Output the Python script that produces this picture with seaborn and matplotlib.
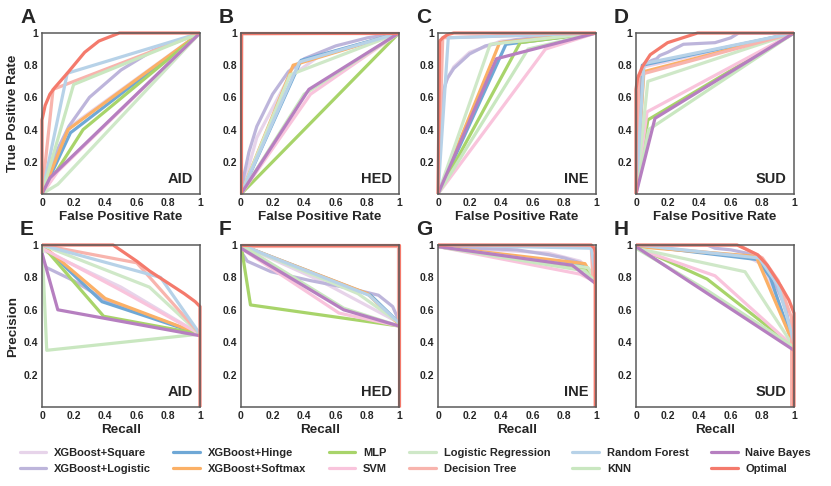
import numpy as np
import pandas as pd
import matplotlib
matplotlib.use("Agg")
import matplotlib.pyplot as plt
from matplotlib.lines import Line2D
import seaborn as sns

sns.set_style("white")
plt.rcParams['font.family'] = ['Liberation Sans', 'DejaVu Sans']
plt.rcParams['font.weight'] = 'bold'

MODELS = ["XGBoost+Square", "XGBoost+Logistic", "XGBoost+Hinge", "XGBoost+Softmax",
          "MLP", "SVM", "Logistic Regression", "Decision Tree", "Random Forest",
          "KNN", "Naive Bayes", "Optimal"]
COLORS = ["#e7d4ea", "#bdb5db", "#6fa8d6", "#fbb066", "#a8d46a", "#f9c4dc",
          "#cfe8c8", "#f8b4ad", "#b7d2e8", "#c9e7c0", "#b67fc0", "#f47a6c"]

DATASETS = ["AID", "HED", "INE", "SUD"]
LETTERS_ROC = ["A", "B", "C", "D"]
LETTERS_PR = ["E", "F", "G", "H"]

# ROC curves: (FPR, TPR)
AID_ROC = {
    "XGBoost+Square": ([0, 0.18, 1], [0, 0.42, 1]),
    "XGBoost+Logistic": ([0, 0.05, 0.1, 0.17, 0.3, 0.5, 0.7, 1], [0, 0.15, 0.28, 0.42, 0.6, 0.77, 0.89, 1]),
    "XGBoost+Hinge": ([0, 0.18, 1], [0, 0.38, 1]),
    "XGBoost+Softmax": ([0, 0.165, 1], [0, 0.40, 1]),
    "MLP": ([0, 0.26, 1], [0, 0.40, 1]),
    "SVM": ([0, 0.1, 1], [0, 0.14, 1]),
    "Logistic Regression": ([0, 0.1, 1], [0, 0.06, 1]),
    "Decision Tree": ([0, 0.07, 1], [0, 0.65, 1]),
    "Random Forest": ([0, 0.16, 1], [0, 0.75, 1]),
    "KNN": ([0, 0.2, 1], [0, 0.68, 1]),
    "Naive Bayes": ([0, 0.05, 1], [0, 0.1, 1]),
    "Optimal": ([0, 0, 0.02, 0.05, 0.08, 0.16, 0.27, 0.36, 0.49, 1], [0, 0.46, 0.55, 0.62, 0.66, 0.75, 0.88, 0.95, 1, 1]),
}
HED_ROC = {
    "XGBoost+Square": ([0, 0.1, 0.3, 0.5, 1], [0, 0.35, 0.72, 0.86, 1]),
    "XGBoost+Logistic": ([0, 0.02, 0.05, 0.1, 0.2, 0.3, 0.4, 0.6, 0.8, 1], [0, 0.12, 0.26, 0.42, 0.62, 0.76, 0.84, 0.92, 0.97, 1]),
    "XGBoost+Hinge": ([0, 0.38, 1], [0, 0.83, 1]),
    "XGBoost+Softmax": ([0, 0.33, 1], [0, 0.8, 1]),
    "MLP": ([0, 1], [0, 1]),
    "SVM": ([0, 0.44, 1], [0, 0.62, 1]),
    "Logistic Regression": ([0, 0.31, 1], [0, 0.74, 1]),
    "Decision Tree": ([0, 0.005, 1], [0, 0.995, 1]),
    "Random Forest": ([0, 0.37, 1], [0, 0.82, 1]),
    "KNN": ([0, 0.4, 1], [0, 0.62, 1]),
    "Naive Bayes": ([0, 0.43, 1], [0, 0.65, 1]),
    "Optimal": ([0, 0, 1], [0, 1, 1]),
}
INE_ROC = {
    "XGBoost+Square": ([0, 0.02, 0.05, 0.1, 0.2, 0.4, 1], [0, 0.55, 0.7, 0.79, 0.88, 0.95, 1]),
    "XGBoost+Logistic": ([0, 0.01, 0.02, 0.04, 0.06, 0.1, 0.2, 0.3, 0.5, 1], [0, 0.35, 0.52, 0.66, 0.72, 0.78, 0.87, 0.92, 0.96, 1]),
    "XGBoost+Hinge": ([0, 0.43, 1], [0, 0.93, 1]),
    "XGBoost+Softmax": ([0, 0.39, 1], [0, 0.94, 1]),
    "MLP": ([0, 0.52, 1], [0, 0.94, 1]),
    "SVM": ([0, 0.68, 1], [0, 0.9, 1]),
    "Logistic Regression": ([0, 0.33, 1], [0, 0.93, 1]),
    "Decision Tree": ([0, 0.03, 1], [0, 0.97, 1]),
    "Random Forest": ([0, 0.065, 1], [0, 0.97, 1]),
    "KNN": ([0, 0.57, 1], [0, 0.9, 1]),
    "Naive Bayes": ([0, 0.37, 1], [0, 0.84, 1]),
    "Optimal": ([0, 0.01, 0.03, 0.06, 0.1, 1], [0, 0.95, 0.97, 0.99, 1, 1]),
}
SUD_ROC = {
    "XGBoost+Square": ([0, 0.05, 1], [0, 0.79, 1]),
    "XGBoost+Logistic": ([0, 0.02, 0.05, 0.1, 0.13, 0.15, 0.2, 0.3, 0.5, 0.6, 0.65, 1], [0, 0.7, 0.8, 0.83, 0.84, 0.86, 0.88, 0.93, 0.94, 0.97, 1, 1]),
    "XGBoost+Hinge": ([0, 0.04, 1], [0, 0.8, 1]),
    "XGBoost+Softmax": ([0, 0.05, 1], [0, 0.76, 1]),
    "MLP": ([0, 0.075, 1], [0, 0.46, 1]),
    "SVM": ([0, 0.07, 1], [0, 0.51, 1]),
    "Logistic Regression": ([0, 0.075, 1], [0, 0.7, 1]),
    "Decision Tree": ([0, 0.02, 1], [0, 0.74, 1]),
    "Random Forest": ([0, 0.05, 1], [0, 0.81, 1]),
    "KNN": ([0, 0.08, 1], [0, 0.4, 1]),
    "Naive Bayes": ([0, 0.12, 1], [0, 0.47, 1]),
    "Optimal": ([0, 0, 0.01, 0.04, 0.09, 0.2, 0.39, 1], [0, 0.65, 0.72, 0.79, 0.865, 0.94, 1, 1]),
}

# PR curves: (Recall, Precision)
AID_PR = {
    "XGBoost+Square": ([0, 0.5, 1], [0.97, 0.74, 0.45]),
    "XGBoost+Logistic": ([0, 0.03, 0.2, 0.4, 1], [0.9, 0.86, 0.78, 0.66, 0.45]),
    "XGBoost+Hinge": ([0, 0.38, 1], [1, 0.65, 0.45]),
    "XGBoost+Softmax": ([0, 0.4, 1], [1, 0.67, 0.45]),
    "MLP": ([0, 0.39, 1], [1, 0.56, 0.45]),
    "SVM": ([0, 0.5, 1], [0.98, 0.72, 0.45]),
    "Logistic Regression": ([0, 0.68, 1], [1, 0.74, 0.45]),
    "Decision Tree": ([0, 0.6, 1], [1, 0.89, 0.45]),
    "Random Forest": ([0, 0.75, 1], [1, 0.8, 0.45]),
    "KNN": ([0, 0.03, 1], [1, 0.35, 0.45]),
    "Naive Bayes": ([0, 0.1, 1], [0.95, 0.6, 0.44]),
    "Optimal": ([0, 0.45, 0.6, 0.68, 0.79, 0.9, 0.97, 1, 1], [1, 1, 0.9, 0.84, 0.77, 0.7, 0.65, 0.62, 0]),
}
HED_PR = {
    "XGBoost+Square": ([0, 0.5, 1], [1, 0.78, 0.52]),
    "XGBoost+Logistic": ([0, 0.04, 0.19, 0.44, 0.7, 0.87, 0.96, 1], [0.96, 0.9, 0.835, 0.78, 0.73, 0.69, 0.62, 0.53]),
    "XGBoost+Hinge": ([0, 0.82, 1], [1, 0.69, 0.52]),
    "XGBoost+Softmax": ([0, 0.8, 1], [1, 0.7, 0.51]),
    "MLP": ([0, 0.06, 1], [1, 0.63, 0.5]),
    "SVM": ([0, 0.62, 1], [0.98, 0.58, 0.5]),
    "Logistic Regression": ([0, 0.74, 1], [1, 0.7, 0.52]),
    "Decision Tree": ([0, 0.995, 0.995], [0.995, 0.995, 0.5]),
    "Random Forest": ([0, 0.81, 1], [1, 0.69, 0.52]),
    "KNN": ([0, 0.65, 1], [1, 0.61, 0.5]),
    "Naive Bayes": ([0, 0.65, 1], [0.98, 0.6, 0.5]),
    "Optimal": ([0, 1, 1], [1, 1, 0]),
}
INE_PR = {
    "XGBoost+Square": ([0, 0.7, 0.9, 1], [0.99, 0.95, 0.9, 0.8]),
    "XGBoost+Logistic": ([0, 0.5, 0.7, 0.8, 0.9, 0.95, 1], [0.99, 0.97, 0.94, 0.92, 0.89, 0.85, 0.78]),
    "XGBoost+Hinge": ([0, 0.92, 1], [0.99, 0.87, 0.78]),
    "XGBoost+Softmax": ([0, 0.93, 1], [0.99, 0.885, 0.77]),
    "MLP": ([0, 0.93, 1], [0.99, 0.85, 0.77]),
    "SVM": ([0, 0.9, 1], [0.99, 0.82, 0.77]),
    "Logistic Regression": ([0, 0.95, 1], [0.99, 0.86, 0.78]),
    "Decision Tree": ([0, 0.97, 0.98], [1, 0.99, 0.8]),
    "Random Forest": ([0, 0.97, 1], [1, 0.98, 0.8]),
    "KNN": ([0, 0.93, 1], [0.99, 0.84, 0.77]),
    "Naive Bayes": ([0, 0.85, 1], [0.99, 0.875, 0.76]),
    "Optimal": ([0, 0.97, 0.99, 0.995, 0.995], [1, 1, 0.98, 0.95, 0]),
}
SUD_PR = {
    "XGBoost+Square": ([0, 0.7, 0.8, 1], [1, 0.93, 0.88, 0.4]),
    "XGBoost+Logistic": ([0, 0.45, 0.5, 0.6, 0.7, 0.8, 0.85, 0.9, 0.95, 0.98, 1], [1, 1, 0.98, 0.97, 0.95, 0.91, 0.82, 0.72, 0.6, 0.46, 0.4]),
    "XGBoost+Hinge": ([0, 0.77, 0.85, 1], [1, 0.91, 0.8, 0.37]),
    "XGBoost+Softmax": ([0, 0.76, 1], [0.99, 0.93, 0.38]),
    "MLP": ([0, 0.45, 1], [0.99, 0.79, 0.37]),
    "SVM": ([0, 0.5, 1], [0.98, 0.81, 0.37]),
    "Logistic Regression": ([0, 0.69, 1], [0.98, 0.835, 0.37]),
    "Decision Tree": ([0, 0.65, 0.8, 0.9, 0.985, 0.985], [1, 1, 0.92, 0.78, 0.55, 0]),
    "Random Forest": ([0, 0.78, 0.9, 1], [1, 0.92, 0.75, 0.4]),
    "KNN": ([0, 0.45, 1], [0.98, 0.72, 0.37]),
    "Naive Bayes": ([0, 1], [0.99, 0.35]),
    "Optimal": ([0, 0.64, 0.77, 0.83, 0.915, 0.968, 1, 1], [1, 1, 0.94, 0.876, 0.75, 0.66, 0.58, 0]),
}

ROC_ALL = [AID_ROC, HED_ROC, INE_ROC, SUD_ROC]
PR_ALL = [AID_PR, HED_PR, INE_PR, SUD_PR]

W, H = 831, 486
fig = plt.figure(figsize=(W / 100, H / 100), dpi=100)

col_left = [42, 241, 438, 636]
ax_w = 158
rows = [(33, 194), (245, 407)]

SPINE = "#5a5a5a"


def draw_panel(ax, curves, name, xlabel, ylabel, left):
    for m, c in zip(MODELS, COLORS):
        xs, ys = curves[m]
        df = pd.DataFrame({"x": xs, "y": ys})
        sns.lineplot(data=df, x="x", y="y", ax=ax, sort=False, estimator=None,
                     color=c, lw=2.3, solid_joinstyle="round", solid_capstyle="butt",
                     legend=False, clip_on=(m != "Optimal"))
    ax.set_xlim(0, 1)
    ax.set_ylim(0, 1)
    ax.set_xticks([0, 0.2, 0.4, 0.6, 0.8, 1])
    ax.set_xticklabels(["0", "0.2", "0.4", "0.6", "0.8", "1"])
    ax.set_yticks([0.2, 0.4, 0.6, 0.8, 1])
    ax.set_yticklabels(["0.2", "0.4", "0.6", "0.8", "1"])
    ax.tick_params(direction="in", length=3, width=1, color=SPINE, labelsize=7.5, pad=3)
    for lab in ax.get_xticklabels() + ax.get_yticklabels():
        lab.set_fontweight("bold")
    for s in ax.spines.values():
        s.set_color(SPINE)
        s.set_linewidth(1.1)
        s.set_visible(True)
    ax.set_xlabel(xlabel, fontsize=9.7, fontweight="bold", labelpad=2)
    if left:
        ax.set_ylabel(ylabel, fontsize=9.7, fontweight="bold", labelpad=3)
    else:
        ax.set_ylabel("")
    ax.text(0.955, 0.07, name, transform=ax.transAxes, ha="right", va="baseline",
            fontsize=10.5, fontweight="bold")


for r, (top, bot) in enumerate(rows):
    for c in range(4):
        l = col_left[c]
        ax = fig.add_axes([l / W, 1 - bot / H, ax_w / W, (bot - top) / H])
        if r == 0:
            draw_panel(ax, ROC_ALL[c], DATASETS[c],
                       "False Positive Rate", "True Positive Rate", c == 0)
            letter = LETTERS_ROC[c]
        else:
            draw_panel(ax, PR_ALL[c], DATASETS[c],
                       "Recall", "Precision", c == 0)
            letter = LETTERS_PR[c]
        fig.text((l - 22) / W, 1 - (top - 10) / H, letter, fontsize=15,
                 fontweight="bold", ha="left", va="baseline")

handles = [Line2D([0], [0], color=c, lw=2.3) for c in COLORS]
fig.legend(handles, MODELS, ncol=6, loc="lower center", bbox_to_anchor=(0.5, 0.005),
           frameon=False, prop={"size": 8.0, "weight": "bold"},
           handlelength=2.4, handletextpad=0.7, columnspacing=2.0, labelspacing=0.5)

fig.savefig("out.png", dpi=100)
